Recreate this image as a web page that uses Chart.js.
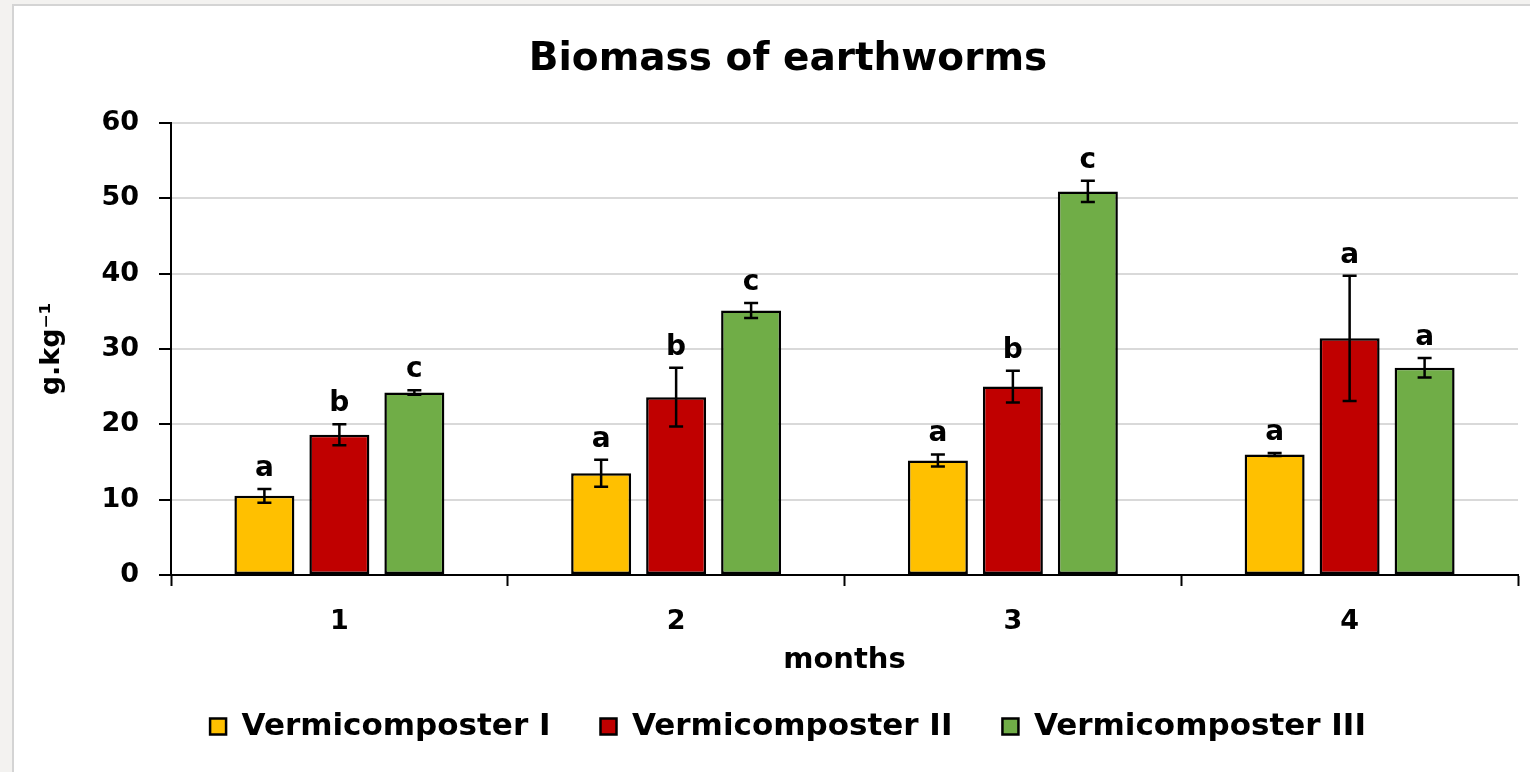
<!DOCTYPE html>
<html>
<head>
<meta charset="utf-8">
<script src="https://cdn.jsdelivr.net/npm/chart.js@4/dist/chart.umd.min.js"></script>
<style>
  html, body { margin: 0; padding: 0; background: #f3f2f0; width: 1530px; height: 772px; overflow: hidden; }
  #wrap { position: absolute; left: 12px; top: 4px; width: 1518px; height: 768px; background: #ffffff;
          border-left: 2px solid #d4d4d4; border-top: 2px solid #d4d4d4; box-sizing: border-box; }
  #inner { position: relative; width: 1516px; height: 766px; }
</style>
</head>
<body>
<div id="wrap"><div id="inner"><canvas id="c"></canvas></div></div>
<script>
const months = ['1', '2', '3', '4'];
const seriesNames = ['Vermicomposter I', 'Vermicomposter II', 'Vermicomposter III'];
const valuesI   = [10.5, 13.5, 15.2, 16.0];
const valuesII  = [18.6, 23.6, 25.0, 31.4];
const valuesIII = [24.2, 35.1, 50.9, 27.5];
const errorsI   = [0.9, 1.8, 0.8, 0.2];
const errorsII  = [1.4, 3.9, 2.1, 8.3];
const errorsIII = [0.3, 1.0, 1.4, 1.3];
const lettersI   = ['a', 'a', 'a', 'a'];
const lettersII  = ['b', 'b', 'b', 'a'];
const lettersIII = ['c', 'c', 'c', 'a'];
const yTicks = [0, 10, 20, 30, 40, 50, 60];

const FONT = "'DejaVu Sans', sans-serif";
const colors = ['#FFC000', '#C00000', '#70AD47'];
const allValues = [valuesI, valuesII, valuesIII];
const allErrors = [errorsI, errorsII, errorsIII];
const allLetters = [lettersI, lettersII, lettersIII];

const errorPlugin = {
  id: 'errorBarsAndLetters',
  afterDatasetsDraw(chart) {
    const ctx = chart.ctx;
    const y = chart.scales.y;
    ctx.save();
    chart.data.datasets.forEach((ds, i) => {
      const meta = chart.getDatasetMeta(i);
      meta.data.forEach((bar, j) => {
        const v = allValues[i][j], e = allErrors[i][j];
        const top = y.getPixelForValue(v + e);
        const bot = y.getPixelForValue(v - e);
        ctx.strokeStyle = '#000';
        ctx.lineWidth = 2.5;
        ctx.beginPath();
        ctx.moveTo(bar.x, top); ctx.lineTo(bar.x, bot);
        ctx.moveTo(bar.x - 7, top); ctx.lineTo(bar.x + 7, top);
        ctx.moveTo(bar.x - 7, bot); ctx.lineTo(bar.x + 7, bot);
        ctx.stroke();
        ctx.fillStyle = '#000';
        ctx.font = "bold 28px " + FONT;
        ctx.textAlign = 'center';
        ctx.textBaseline = 'alphabetic';
        ctx.fillText(allLetters[i][j], bar.x, top - 13);
      });
    });
    ctx.restore();
  }
};

new Chart(document.getElementById('c'), {
  type: 'bar',
  data: {
    labels: months,
    datasets: seriesNames.map((name, i) => ({
      label: name,
      data: allValues[i],
      backgroundColor: colors[i],
      borderColor: '#000',
      borderWidth: 2.5,
      borderSkipped: false,
      categoryPercentage: 0.668,
      barPercentage: 0.8
    }))
  },
  options: {
    responsive: true,
    maintainAspectRatio: false,
    animation: false,
    events: [],
    layout: { padding: { left: 44, right: 12, top: 0, bottom: 20 } },
    plugins: {
      tooltip: { enabled: false },
      title: {
        display: true,
        text: 'Biomass of earthworms',
        color: '#000',
        font: { family: FONT, size: 39, weight: 'bold' },
        padding: { top: 30, bottom: 40 }
      },
      legend: {
        display: true,
        position: 'bottom',
        labels: {
          color: '#000',
          font: { family: FONT, size: 31, weight: 'bold' },
          boxWidth: 16,
          boxHeight: 16,
          padding: 50
        }
      }
    },
    scales: {
      x: {
        grid: { display: true, offset: true, drawOnChartArea: false, drawTicks: true,
                tickLength: 11, tickColor: '#000', tickWidth: 2 },
        border: { display: true, color: '#000', width: 2 },
        ticks: { color: '#000', font: { family: FONT, size: 27, weight: 'bold' }, padding: 20 },
        title: { display: true, text: 'months', color: '#000',
                 font: { family: FONT, size: 29, weight: 'bold' }, padding: { top: 0, bottom: -17 } },
        afterFit(scale) { scale.height = 86; }
      },
      y: {
        min: 0, max: 60,
        afterBuildTicks(scale) { scale.ticks = yTicks.map(v => ({ value: v })); },
        grid: { color: '#d9d9d9', lineWidth: 2, tickColor: '#000', tickLength: 12, tickWidth: 2 },
        border: { display: true, color: '#000', width: 2 },
        ticks: { color: '#000', font: { family: FONT, size: 27, weight: 'bold' }, padding: 20 },
        title: { display: true, text: 'g.kg⁻¹', color: '#000',
                 font: { family: FONT, size: 27, weight: 'bold' }, padding: { top: -22, bottom: 10 } },
        afterFit(scale) { scale.width = 113; }
      }
    }
  },
  plugins: [errorPlugin]
});
</script>
</body>
</html>
